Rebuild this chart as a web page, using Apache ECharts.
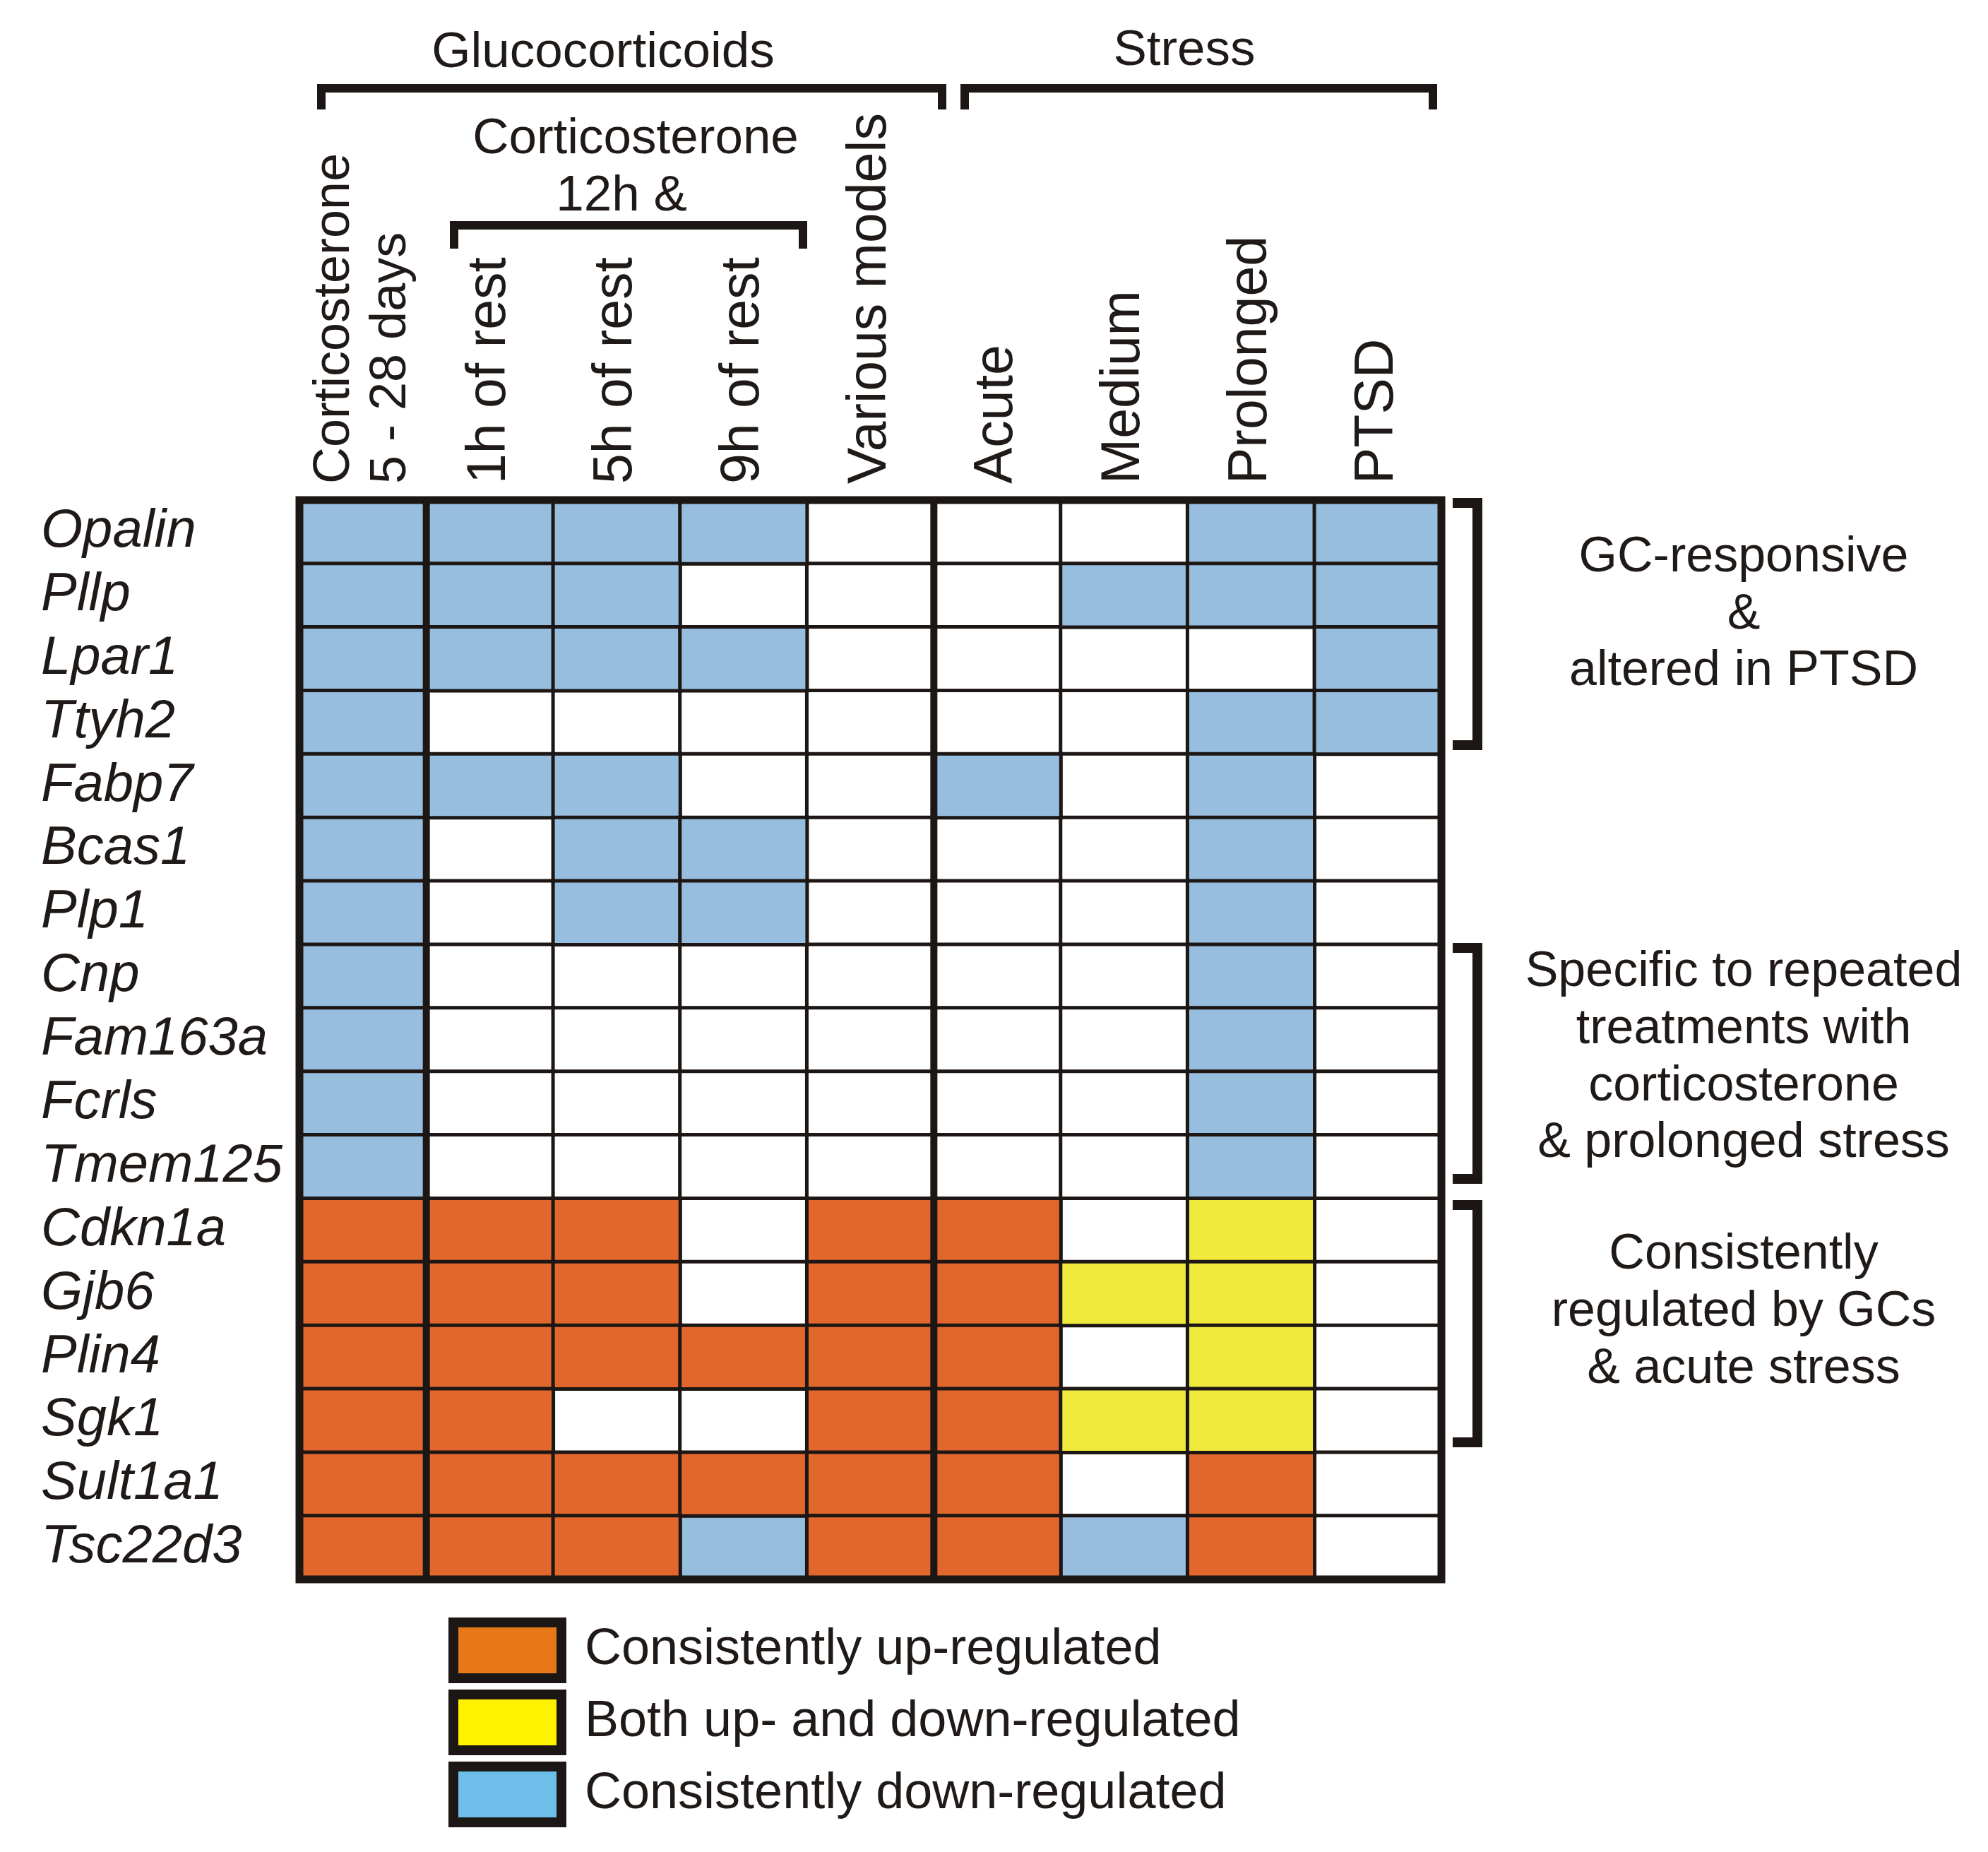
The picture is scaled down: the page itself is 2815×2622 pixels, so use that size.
<!DOCTYPE html>
<html><head><meta charset="utf-8">
<script src="https://cdn.jsdelivr.net/npm/echarts@6/dist/echarts.min.js"></script>
<style>html,body{margin:0;padding:0;background:#fff}#c{width:2815px;height:2622px}</style>
</head><body><div id="c"></div>
<script>
// ---------- data ----------
const genes = ['Opalin','Pllp','Lpar1','Ttyh2','Fabp7','Bcas1','Plp1','Cnp','Fam163a','Fcrls','Tmem125','Cdkn1a','Gjb6','Plin4','Sgk1','Sult1a1','Tsc22d3'];
const conditions = ['Corticosterone\n5 - 28 days','1h of rest','5h of rest','9h of rest','Various models','Acute','Medium','Prolonged','PTSD'];
// 0 = not altered, 1 = consistently down, 2 = consistently up, 3 = both up and down
const regulation = [
  [1,1,1,1,0,0,0,1,1], // Opalin
  [1,1,1,0,0,0,1,1,1], // Pllp
  [1,1,1,1,0,0,0,0,1], // Lpar1
  [1,0,0,0,0,0,0,1,1], // Ttyh2
  [1,1,1,0,0,1,0,1,0], // Fabp7
  [1,0,1,1,0,0,0,1,0], // Bcas1
  [1,0,1,1,0,0,0,1,0], // Plp1
  [1,0,0,0,0,0,0,1,0], // Cnp
  [1,0,0,0,0,0,0,1,0], // Fam163a
  [1,0,0,0,0,0,0,1,0], // Fcrls
  [1,0,0,0,0,0,0,1,0], // Tmem125
  [2,2,2,0,2,2,0,3,0], // Cdkn1a
  [2,2,2,0,2,2,3,3,0], // Gjb6
  [2,2,2,2,2,2,0,3,0], // Plin4
  [2,2,0,0,2,2,3,3,0], // Sgk1
  [2,2,2,2,2,2,0,2,0], // Sult1a1
  [2,2,2,1,2,2,1,2,0]  // Tsc22d3
];
const statusNames = ['Not altered','Consistently down-regulated','Consistently up-regulated','Both up- and down-regulated'];
const legendOrder = [2, 3, 1];
const groupTexts = [
  ['GC-responsive','&','altered in PTSD'],
  ['Specific to repeated','treatments with','corticosterone','& prolonged stress'],
  ['Consistently','regulated by GCs','& acute stress']
];

// ---------- styles ----------
const FONT = "'Liberation Sans', Arial, sans-serif";
const INK = '#1f1a17';
const LINE = '#1c1714';
const cellColors = ['#ffffff', '#98bedf', '#e2672d', '#efea3c'];
const legendColors = {1: '#6dbfea', 2: '#e67818', 3: '#fff200'};
const G = {left: 424, top: 708, width: 1617, height: 1528};
const colW = G.width / conditions.length, rowH = G.height / genes.length;

function cellsOf(code) {
  const out = [];
  regulation.forEach((row, r) => row.forEach((v, c) => { if (v === code) out.push([c, r, v]); }));
  return out;
}
const series = [0, 1, 2, 3].map(code => ({
  type: 'heatmap',
  name: statusNames[code],
  data: cellsOf(code),
  itemStyle: {color: cellColors[code], borderColor: LINE, borderWidth: 5},
  emphasis: {disabled: true},
  label: {show: false}
}));

// ---------- annotation graphics ----------
const gx = c => G.left + c * colW;
function txt(s, x, y, size) {
  return {type: 'text', z: 50, style: {text: s, x, y, fill: INK, font: `${size}px ${FONT}`, align: 'center', verticalAlign: 'middle'}};
}
function bracketTop(x1, x2, yBar, yEnd) {
  return {type: 'polyline', z: 50, shape: {points: [[x1, yEnd], [x1, yBar], [x2, yBar], [x2, yEnd]]},
    style: {stroke: LINE, lineWidth: 12, fill: null, lineJoin: 'miter', lineCap: 'butt'}};
}
function bracketRight(y1, y2) {
  const xv = 2092, xa = 2057;
  return {type: 'polyline', z: 50, shape: {points: [[xa, y1], [xv, y1], [xv, y2], [xa, y2]]},
    style: {stroke: LINE, lineWidth: 14, fill: null, lineJoin: 'miter', lineCap: 'butt'}};
}
const graphics = [];
graphics.push({type: 'rect', z: 60, shape: {x: G.left, y: G.top, width: G.width, height: G.height},
  style: {stroke: LINE, lineWidth: 11, fill: null}});
[1, 5].forEach(c => graphics.push({type: 'line', z: 60, shape: {x1: gx(c), y1: G.top, x2: gx(c), y2: G.top + G.height},
  style: {stroke: LINE, lineWidth: 10}}));
graphics.push(txt('Glucocorticoids', 854, 75, 71));
graphics.push(bracketTop(455, 1334, 125, 155));
graphics.push(txt('Stress', 1677, 72, 71));
graphics.push(bracketTop(1366, 2029, 125, 155));
graphics.push(txt('Corticosterone', 900, 197, 71));
graphics.push(txt('12h &', 880, 278, 71));
graphics.push(bracketTop(643, 1137, 319, 352));
graphics.push(bracketRight(712, 1055));
graphics.push(bracketRight(1342, 1669));
graphics.push(bracketRight(1706, 2042));
const groupY = [[790, 871, 951], [1377, 1458, 1539, 1619], [1777, 1858, 1939]];
groupTexts.forEach((lines, gi) => lines.forEach((s, li) => graphics.push(txt(s, 2469, groupY[gi][li], 70))));

const chart = echarts.init(document.getElementById('c'), null, {renderer: 'canvas'});
chart.setOption({
  animation: false,
  backgroundColor: '#ffffff',
  grid: {left: G.left, top: G.top, width: G.width, height: G.height, containLabel: false},
  xAxis: {
    type: 'category', position: 'top', data: conditions,
    axisLine: {show: false}, axisTick: {show: false}, splitLine: {show: false},
    axisLabel: {
      rotate: -90, margin: 23, fontSize: 77, lineHeight: 80, color: INK, fontFamily: FONT, interval: 0,
      formatter: (v, i) => v.indexOf('\n') >= 0 ? v.split('\n').map(s => '{s|' + s + '}').join('\n') : v,
      rich: {s: {fontSize: 72, lineHeight: 80, color: INK, fontFamily: FONT}}
    }
  },
  yAxis: {
    type: 'category', inverse: true, data: genes,
    axisLine: {show: false}, axisTick: {show: false}, splitLine: {show: false},
    axisLabel: {align: 'left', margin: G.left - 58, fontSize: 76, fontStyle: 'italic', color: INK, fontFamily: FONT, interval: 0}
  },
  legend: {
    orient: 'vertical', left: 635, top: 2290, padding: 0,
    itemWidth: 153, itemHeight: 79, itemGap: 9,
    selectedMode: false,
    itemStyle: {borderColor: LINE, borderWidth: 14},
    textStyle: {fontSize: 72, lineHeight: 76, color: INK, fontFamily: FONT, padding: [0, 0, 0, 28]},
    data: legendOrder.map(code => ({name: statusNames[code], icon: 'rect',
      itemStyle: {color: legendColors[code], borderColor: LINE, borderWidth: 14}}))
  },
  series: series,
  graphic: graphics
});
</script></body></html>
